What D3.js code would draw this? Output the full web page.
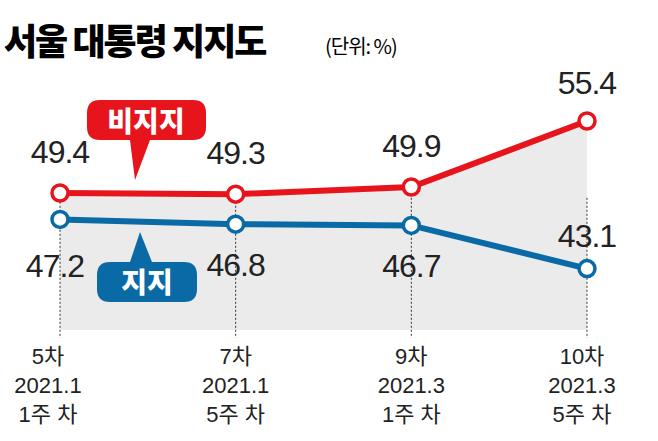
<!DOCTYPE html><html><head><meta charset="utf-8"><script src="https://cdn.jsdelivr.net/npm/d3@7"></script>
<style>body{margin:0;background:#fff}</style></head><body><svg id="c" width="658" height="441"></svg>
<script>
const periods=["5차","7차","9차","10차"];
const dates=["2021.1","2021.1","2021.3","2021.3"];
const weeks=["1주 차","5주 차","1주 차","5주 차"];
const oppose=[49.4,49.3,49.9,55.4];
const support=[47.2,46.8,46.7,43.1];
const svg=d3.select("#c");
const font="'Liberation Sans','Noto Sans CJK KR',sans-serif";
const x=d3.scalePoint().domain(periods).range([60,587]);
const y=d3.scaleLinear().domain([43.1,55.4]).range([268.6,121]);
const red="#e8141b",blue="#0a6aa6";
svg.append("text").attr("x",4).attr("y",55).attr("font-family","'Noto Sans CJK KR'").attr("font-weight",900).attr("font-size",36).attr("letter-spacing",-2).text("서울 대통령 지지도");
svg.append("text").attr("x",325).attr("y",54).attr("font-family","'Noto Sans CJK KR'").attr("font-size",20).attr("letter-spacing",-1).text("(단위: %)");
const base=330;
svg.append("path").datum(oppose).attr("fill","#ebebeb")
 .attr("d",d3.area().x((d,i)=>x(periods[i])).y0(base).y1(d=>y(d)));
periods.forEach(p=>svg.append("line").attr("x1",x(p)).attr("x2",x(p)).attr("y1",y(49)).attr("y2",338).attr("stroke","#333").attr("stroke-dasharray","2,2"));
const line=d3.line().x((d,i)=>x(periods[i])).y(d=>y(d));
[[oppose,red],[support,blue]].forEach(([s,c])=>{
 svg.append("path").datum(s).attr("d",line).attr("fill","none").attr("stroke",c).attr("stroke-width",6);
 s.forEach((d,i)=>svg.append("circle").attr("cx",x(periods[i])).attr("cy",y(d)).attr("r",8).attr("fill","#fff").attr("stroke",c).attr("stroke-width",3.5));
});
const lbl=(t,xx,yy)=>svg.append("text").attr("x",xx).attr("y",yy).attr("text-anchor","middle").attr("font-family",font).attr("font-size",32).attr("letter-spacing",-1).attr("fill","#222").text(t);
oppose.forEach((d,i)=>lbl(d.toFixed(1),x(periods[i]),y(d)-(i==3?27:30)));
support.forEach((d,i)=>{ if(i<3) lbl(d.toFixed(1),x(periods[i])-(i==0?5:0),y(d)+(i==0?58:52)); else lbl(d.toFixed(1),x(periods[i]),y(d)-22);});
svg.append("path").attr("d","M100,100 H193 Q206,100 206,113 V127 Q206,140 193,140 H150 L135,180 L130,140 H100 Q87,140 87,127 V113 Q87,100 100,100Z").attr("fill",red);
svg.append("text").attr("x",146).attr("y",132).attr("text-anchor","middle").attr("font-family","'Noto Sans CJK KR'").attr("font-weight",900).attr("font-size",28).attr("fill","#fff").text("비지지");
svg.append("path").attr("d","M110,262 H130 L140,232 L152,262 H184 Q197,262 197,275 V289 Q197,302 184,302 H110 Q97,302 97,289 V275 Q97,262 110,262Z").attr("fill",blue);
svg.append("text").attr("x",147).attr("y",293).attr("text-anchor","middle").attr("font-family","'Noto Sans CJK KR'").attr("font-weight",900).attr("font-size",28).attr("fill","#fff").text("지지");
periods.forEach((p,i)=>{[p,dates[i],weeks[i]].forEach((t,k)=>svg.append("text").attr("x",x(p)+(i==0?-12:i==3?-5:0)).attr("y",364+k*29).attr("text-anchor","middle").attr("font-family",font).attr("font-size",22).attr("fill","#222").text(t));});
</script></body></html>
